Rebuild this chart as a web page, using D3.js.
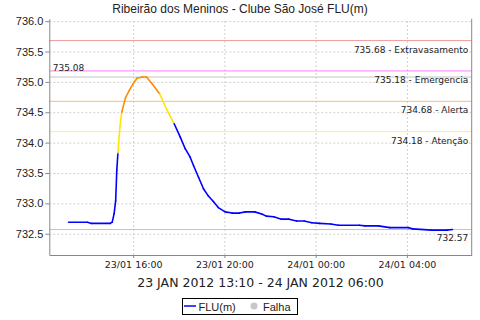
<!DOCTYPE html>
<html lang="pt">
<head>
<meta charset="utf-8">
<script src="https://d3js.org/d3.v7.min.js"></script>
<style>
  body { margin: 0; background: #fff; }
  text { font-family: "Liberation Sans", sans-serif; fill: #222; }
  .grid line { stroke: #d0d0d0; stroke-dasharray: 2,2; }
  .grid path { display: none; }
  .axis path, .axis line { stroke: #888; }
</style>
</head>
<body>
<div id="chart"></div>
<script>
// FLU(m) readings, 23 JAN 2012 13:10 - 24 JAN 2012 06:00
var times = [
  "2012-01-23 13:10","2012-01-23 14:00","2012-01-23 14:10","2012-01-23 15:00",
  "2012-01-23 15:05","2012-01-23 15:10","2012-01-23 15:14","2012-01-23 15:17",
  "2012-01-23 15:20","2012-01-23 15:25","2012-01-23 15:30","2012-01-23 15:40",
  "2012-01-23 15:50","2012-01-23 16:00","2012-01-23 16:10","2012-01-23 16:25",
  "2012-01-23 16:35","2012-01-23 16:50","2012-01-23 17:10","2012-01-23 17:28",
  "2012-01-23 17:48","2012-01-23 18:04","2012-01-23 18:17","2012-01-23 18:30",
  "2012-01-23 18:39","2012-01-23 18:52","2012-01-23 19:05","2012-01-23 19:18",
  "2012-01-23 19:31","2012-01-23 19:44","2012-01-23 20:02","2012-01-23 20:20",
  "2012-01-23 20:40","2012-01-23 20:55","2012-01-23 21:20","2012-01-23 21:40",
  "2012-01-23 21:50","2012-01-23 22:10","2012-01-23 22:30","2012-01-23 22:50",
  "2012-01-23 23:10","2012-01-23 23:30","2012-01-23 23:50","2012-01-24 00:10",
  "2012-01-24 00:40","2012-01-24 01:00","2012-01-24 01:55","2012-01-24 02:10",
  "2012-01-24 02:45","2012-01-24 03:15","2012-01-24 04:05","2012-01-24 04:15",
  "2012-01-24 05:05","2012-01-24 05:45","2012-01-24 06:00"
];
var levels = [
  732.69, 732.69, 732.67, 732.67,
  732.69, 732.83, 733.04, 733.54,
  733.83, 734.25, 734.50, 734.74,
  734.86, 734.97, 735.06, 735.08,
  735.08, 734.97, 734.80, 734.55,
  734.31, 734.09, 733.90, 733.76,
  733.62, 733.43, 733.24, 733.12,
  733.03, 732.93, 732.86, 732.84,
  732.84, 732.86, 732.86, 732.82,
  732.79, 732.78, 732.74, 732.74,
  732.71, 732.71, 732.68, 732.67,
  732.66, 732.64, 732.64, 732.63,
  732.63, 732.60, 732.60, 732.58,
  732.56, 732.56, 732.57
];

// threshold lines
var limitValues = [735.68, 735.18, 734.68, 734.18];
var limitNames  = ["Extravasamento", "Emergencia", "Alerta", "Atenção"];
var limitColors = ["#f29a9a", "#ff80ff", "#ffbb77", "#ffeb99"];
var maxValue = 735.08, lastValue = 732.57;

var yTicks = [732.5, 733.0, 733.5, 734.0, 734.5, 735.0, 735.5, 736.0];
var xTicks = ["2012-01-23 16:00", "2012-01-23 20:00", "2012-01-24 00:00", "2012-01-24 04:00"];

var W = 480, H = 320;
var margin = {top: 18.7, right: 8.3, bottom: 65, left: 49.3},
    width = W - margin.left - margin.right,
    height = H - margin.top - margin.bottom;

var parse = d3.timeParse("%Y-%m-%d %H:%M");
var data = times.map(function(t, i) { return {t: parse(t), v: levels[i]}; });

var svgRoot = d3.select("#chart").append("svg")
  .attr("width", W).attr("height", H);
var svg = svgRoot.append("g")
  .attr("transform", "translate(" + margin.left + "," + margin.top + ")");

var ext = d3.extent(data, function(d) { return d.t; });
var pad = (ext[1] - ext[0]) * 0.05;
var x = d3.scaleTime()
  .domain([new Date(+ext[0] - pad), new Date(+ext[1] + pad)])
  .range([0, width]);
var y = d3.scaleLinear()
  .domain([732.15, 736.04])
  .range([height, 0]);

// grid
svg.append("g").attr("class", "grid")
  .call(d3.axisLeft(y).tickValues(yTicks).tickSize(-width).tickFormat(""));
svg.append("g").attr("class", "grid")
  .attr("transform", "translate(0," + height + ")")
  .call(d3.axisBottom(x).tickValues(xTicks.map(parse)).tickSize(-height).tickFormat(""));

// threshold + marker lines
function hline(v, color) {
  svg.append("line")
    .attr("x1", 0).attr("x2", width)
    .attr("y1", y(v)).attr("y2", y(v))
    .attr("stroke", color).attr("stroke-width", 1);
}
limitValues.forEach(function(v, i) { hline(v, limitColors[i]); });
hline(maxValue, "#c4c4c4");
hline(lastValue, "#c4c4c4");

function rlabel(v, txt) {
  svg.append("text")
    .attr("x", width - 3.5).attr("y", y(v) + 12)
    .attr("text-anchor", "end")
    .style("font-family", "DejaVu Sans").style("font-size", "9px")
    .text(txt);
}
limitValues.forEach(function(v, i) { rlabel(v, v.toFixed(2) + " - " + limitNames[i]); });
rlabel(lastValue, lastValue.toFixed(2));
svg.append("text")
  .attr("x", 3.5).attr("y", y(maxValue) - 6)
  .style("font-family", "DejaVu Sans").style("font-size", "9px")
  .text(maxValue.toFixed(2));

// line, coloured by level reached
function segColor(v) {
  if (v >= 735.18) return "#ff0000";
  if (v >= 734.68) return "#ff8c00";
  if (v >= 734.18) return "#ffe600";
  return "#0000ff";
}
svg.append("g").selectAll("line.seg")
  .data(data.slice(1))
  .enter().append("line")
  .attr("class", "seg")
  .attr("x1", function(d, i) { return x(data[i].t); })
  .attr("y1", function(d, i) { return y(data[i].v); })
  .attr("x2", function(d) { return x(d.t); })
  .attr("y2", function(d) { return y(d.v); })
  .attr("stroke", function(d) { return segColor(d.v); })
  .attr("stroke-width", 1.6)
  .attr("stroke-linecap", "round");

// axes
var yAxis = svg.append("g").attr("class", "axis")
  .call(d3.axisLeft(y).tickValues(yTicks).tickSize(4).tickSizeOuter(0).tickFormat(d3.format(".1f")));
yAxis.selectAll("text").style("font-size", "11px").attr("x", -6).attr("fill", "#222");

var xAxis = svg.append("g").attr("class", "axis")
  .attr("transform", "translate(0," + height + ")")
  .call(d3.axisBottom(x).tickValues(xTicks.map(parse)).tickSize(3).tickSizeOuter(0)
    .tickFormat(d3.timeFormat("%d/%m %H:%M")));
xAxis.selectAll("text").style("font-family", "DejaVu Sans").style("font-size", "9.5px")
  .attr("y", 6).attr("fill", "#222");

svg.append("line")
  .attr("x1", width).attr("x2", width).attr("y1", 0).attr("y2", height)
  .attr("stroke", "#888");

// titles
svgRoot.append("text")
  .attr("x", W / 2).attr("y", 12.5)
  .attr("text-anchor", "middle")
  .style("font-size", "12px")
  .text("Ribeirão dos Meninos - Clube São José FLU(m)");
svg.append("text")
  .attr("x", width / 2).attr("y", height + 32)
  .attr("text-anchor", "middle")
  .style("font-family", "DejaVu Sans").style("font-size", "12.5px")
  .text("23 JAN 2012 13:10 - 24 JAN 2012 06:00");

// legend
var lg = svgRoot.append("g");
lg.append("rect").attr("x", 182.5).attr("y", 298.5).attr("width", 115).attr("height", 16)
  .attr("fill", "#fff").attr("stroke", "#000");
lg.append("line").attr("x1", 184).attr("x2", 196).attr("y1", 306).attr("y2", 306)
  .attr("stroke", "#0000ff").attr("stroke-width", 1.5);
lg.append("text").attr("x", 198.5).attr("y", 310.5).style("font-size", "11px").text("FLU(m)");
lg.append("circle").attr("cx", 254).attr("cy", 306).attr("r", 3.5).attr("fill", "#c8c8c8");
lg.append("text").attr("x", 263).attr("y", 310.5).style("font-size", "11px").text("Falha");
</script>
</body>
</html>
